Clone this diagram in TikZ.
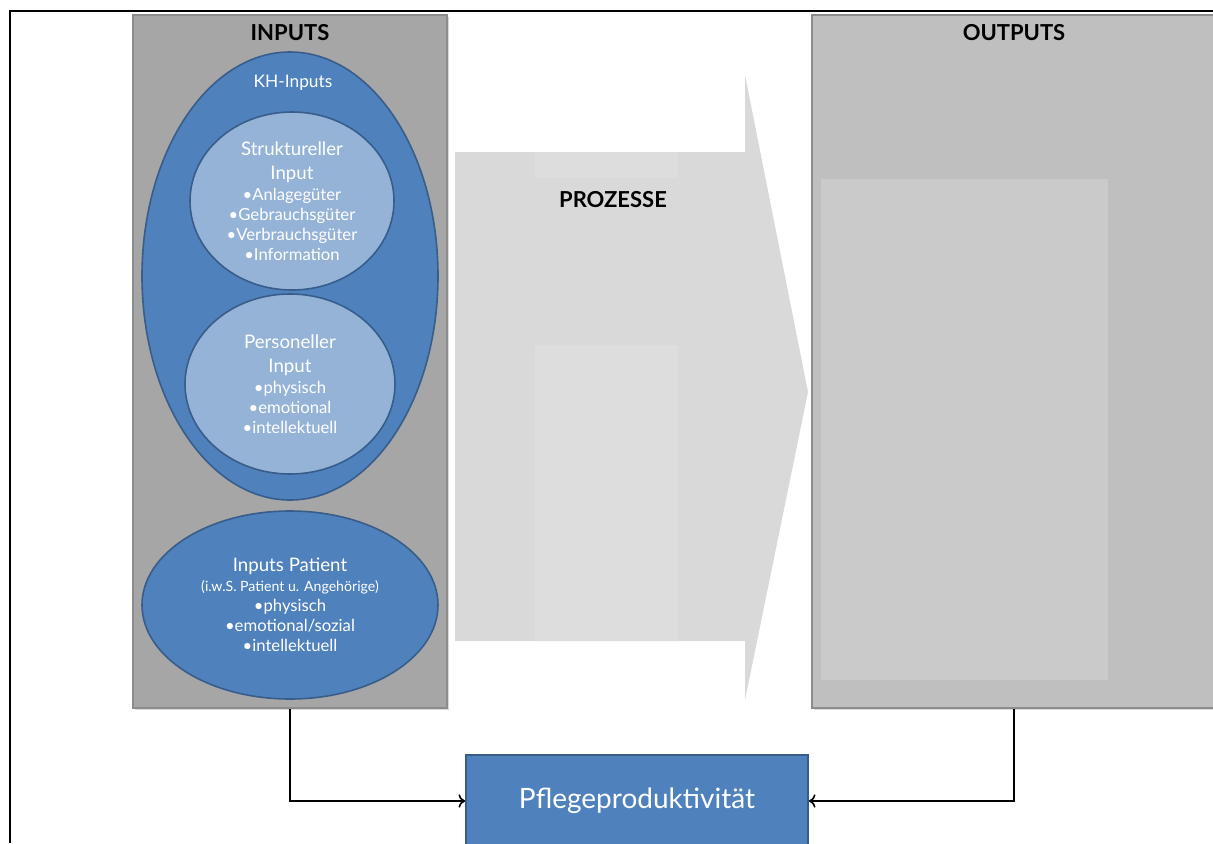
\documentclass[tikz,border=0pt]{standalone}
\usepackage{fontspec}
\setmainfont{Lato}
\usetikzlibrary{arrows.meta,shapes.geometric,shadows,positioning}

\definecolor{inpgray}{HTML}{A6A6A6}
\definecolor{outgray}{HTML}{BFBFBF}
\definecolor{outinner}{HTML}{CACACA}
\definecolor{procgray}{HTML}{D9D9D9}
\definecolor{proclight}{HTML}{DDDDDD}
\definecolor{boxline}{HTML}{8C8C8C}
\definecolor{khblue}{HTML}{4F81BD}
\definecolor{lightblue}{HTML}{95B3D7}
\definecolor{blueline}{HTML}{385D8A}

\newcommand{\titlef}{\fontsize{14}{18}\selectfont}
\newcommand{\bulf}{\fontsize{12.5}{15}\selectfont}

\begin{document}
\begin{tikzpicture}[x=0.75pt,y=-0.75pt,
  box/.style = {draw=boxline,line width=0.8pt,drop shadow={shadow xshift=1.2pt,shadow yshift=-1.2pt,opacity=0.3}},
  blob/.style = {ellipse,draw=blueline,line width=1.2pt,text=white,align=center,inner sep=0pt,font=\bulf},
  head/.style = {font=\fontsize{16.5}{18}\selectfont\bfseries},
  conn/.style = {-{To[length=5pt,width=10pt]},line width=1.2pt}]

\useasboundingbox (0,0) rectangle (1213,843);
\clip (0,0) rectangle (1213,843);

\node[box,fill=inpgray,minimum width=235.5pt,minimum height=519.75pt] (inp) at (290,361.5) {};
\node[box,fill=outgray,minimum width=303pt,minimum height=519.75pt] (outp) at (1014,361.5) {};
\fill[outinner] (821,179) rectangle (1108,680);

\fill[procgray] (455,152) -- (745,152) -- (745,75) -- (808,392) -- (745,700) -- (745,641) -- (455,641) -- cycle;
\fill[proclight] (535,152) rectangle (678,178);
\fill[proclight] (535,345) rectangle (678,641);

\node[head] (inlab) at (290,33) {INPUTS};
\node[head] (outlab) at (1014,33) {OUTPUTS};
\node[head] (proz) at (613,200) {PROZESSE};

\node[blob,fill=khblue,minimum width=222pt,minimum height=336pt] (kh) at (290,276) {};
\node[text=white,font=\fontsize{13}{15}\selectfont] (khlab) at (293,83) {KH-Inputs};

\node[blob,fill=lightblue,minimum width=153pt,minimum height=133.5pt] (struk) at (292,201)
  {{\titlef Struktureller}\\[3pt]{\titlef Input}\\[1pt]•Anlagegüter\\•Gebrauchsgüter\\•Verbrauchsgüter\\•Information};
\node[blob,fill=lightblue,minimum width=157.5pt,minimum height=135pt] (pers) at (290,384)
  {{\titlef Personeller}\\[3pt]{\titlef Input}\\[1pt]•physisch\\•emotional\\•intellektuell};
\node[blob,fill=khblue,minimum width=222pt,minimum height=141pt] (pat) at (290,605)
  {{\titlef Inputs Patient}\\{\fontsize{10.6}{12}\selectfont (i.w.S. Patient u. Angehörige)}\\•physisch\\•emotional/sozial\\•intellektuell};

\node[draw=blueline,line width=1.2pt,fill=khblue,text=white,minimum width=256.5pt,minimum height=69pt,
  font=\fontsize{21}{24}\selectfont] (pfl) at (637,801) {Pflegeproduktivität};

\draw[conn] (inp.south) |- (pfl.west);
\draw[conn] (outp.south) |- (pfl.east);

\draw[line width=2.2pt] (10,843) -- (10,11) -- (1213,11);

\end{tikzpicture}
\end{document}
